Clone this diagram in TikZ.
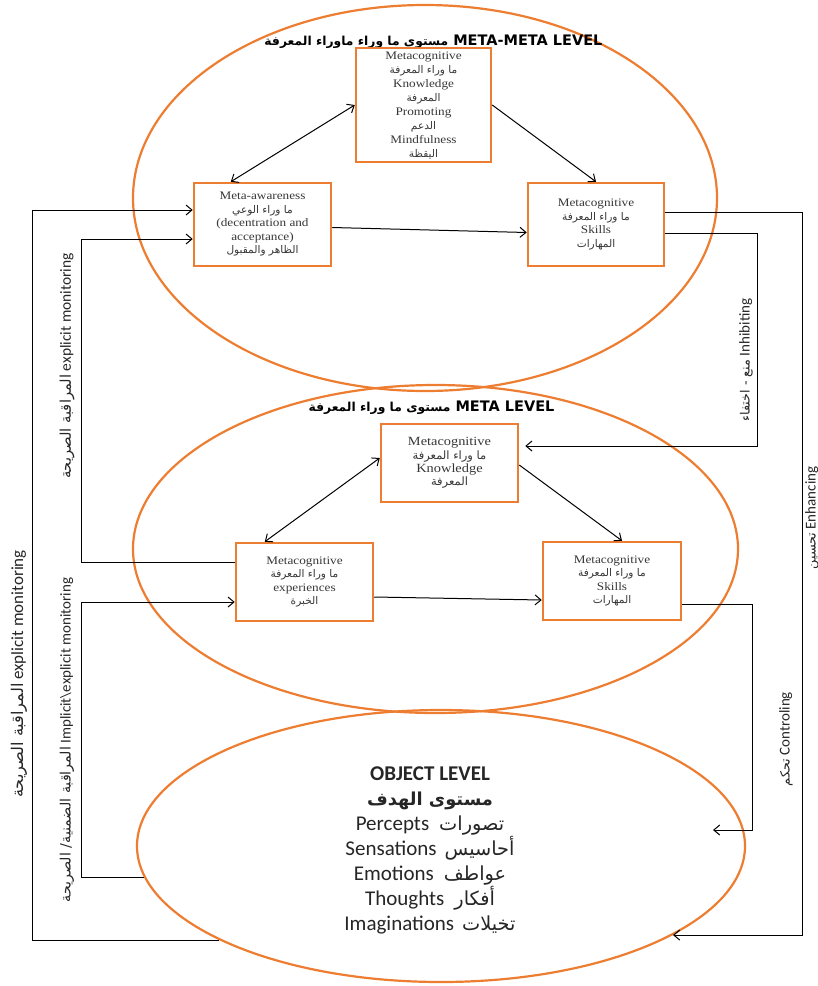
\documentclass[tikz,border=0pt]{standalone}
\usepackage{fontspec}
\usetikzlibrary{shapes.geometric,arrows.meta,calc}
\TeXXeTstate=1
\setmainfont{Liberation Serif}
\newfontfamily\boxfont[FakeStretch=1.15]{Liberation Serif}
\newfontfamily\arfont[Script=Arabic,Scale=0.85]{DejaVu Sans}
\newfontfamily\arboxfont[Script=Arabic,Scale=0.92]{DejaVu Sans}
\newfontfamily\arlabfont[Script=Arabic,Scale=0.95]{DejaVu Sans}
\newfontfamily\headfont{DejaVu Sans}
\newfontfamily\calfont{Carlito}
\newcommand\artxt[1]{{\arfont\beginR #1\endR}}
\newcommand\arbox[1]{{\arboxfont\beginR #1\endR}}
\newcommand\arlab[1]{{\arlabfont\beginR #1\endR}}
\definecolor{orng}{RGB}{237,125,49}
\definecolor{boxtxt}{RGB}{55,55,55}
\tikzset{
  level/.style={ellipse, draw=orng, line width=2.2pt, inner sep=0pt},
  box/.style={draw=orng, line width=2.5pt, fill=white, inner sep=0pt, align=center, text=boxtxt},
  boxtop/.style={box, font=\boxfont\fontsize{11.5}{14}\selectfont},
  boxmid/.style={box, font=\boxfont\fontsize{11.5}{13.4}\selectfont},
  tip/.tip={Straight Barb[length=6pt,width=10pt]},
  conn/.style={line width=1pt, -tip},
  biconn/.style={line width=1pt, tip-tip},
  lbl/.style={rotate=90, font=\calfont\fontsize{15}{18}\selectfont, inner sep=0pt, text=black!85},
  heading/.style={font=\headfont\bfseries\fontsize{14.5}{17}\selectfont, inner sep=0pt},
}
\begin{document}
\begin{tikzpicture}[x=1pt,y=-1pt]
\useasboundingbox (0,0) rectangle (818,986);

% the three levels
\node[level, minimum width=584pt, minimum height=386pt] (toplv) at (425,198) {};
\node[level, minimum width=605pt, minimum height=328pt] (midlv) at (435.5,549) {};
\node[level, minimum width=608pt, minimum height=272pt] (obj) at (441,846) {};

% level headings
\node[heading] (toptitle) at (433.5,42) {\artxt{مستوى ما وراء ماوراء المعرفة} META-META LEVEL};
\node[heading] (midtitle) at (431.5,408) {\artxt{مستوى ما وراء المعرفة} META LEVEL};

% meta-meta level boxes
\node[boxtop, minimum width=135pt, minimum height=114pt] (kn) at (423.5,105)
  {Metacognitive\\\arbox{ما وراء المعرفة}\\Knowledge\\\arbox{المعرفة}\\Promoting\\\arbox{الدعم}\\Mindfulness\\\arbox{اليقظة}};
\node[boxtop, minimum width=137pt, minimum height=83pt, font=\boxfont\fontsize{11.5}{13.5}\selectfont] (ma) at (262.5,224.5)
  {Meta-awareness\\\arbox{ما وراء الوعي}\\(decentration and\\acceptance)\\\arbox{الظاهر والمقبول}};
\node[boxtop, minimum width=136pt, minimum height=83pt, font=\boxfont\fontsize{11.5}{13.7}\selectfont] (sk) at (596,224.5)
  {Metacognitive\\\arbox{ما وراء المعرفة}\\Skills\\\arbox{المهارات}};

% meta level boxes
\node[boxmid, minimum width=137pt, minimum height=78pt, font=\boxfont\fontsize{12.5}{13.4}\selectfont] (mk) at (449.5,463)
  {Metacognitive\\\arbox{ما وراء المعرفة}\\Knowledge\\\arbox{المعرفة}};
\node[boxmid, minimum width=137pt, minimum height=78pt] (me) at (304.5,582)
  {Metacognitive\\\arbox{ما وراء المعرفة}\\experiences\\\arbox{الخبرة}};
\node[boxmid, minimum width=138pt, minimum height=78pt] (ms) at (612,581)
  {Metacognitive\\\arbox{ما وراء المعرفة}\\Skills\\\arbox{المهارات}};

% object level contents
\node[font=\calfont\fontsize{21}{25}\selectfont, align=center, inner sep=0pt, text=black!85] (objtxt) at (430,850)
  {\textbf{OBJECT LEVEL}\\{\bfseries\artxt{مستوى الهدف}}\\
   Percepts\hspace{10pt}\arbox{تصورات}\\
   Sensations\hspace{8pt}\arbox{أحاسيس}\\
   Emotions\hspace{10pt}\arbox{عواطف}\\
   Thoughts\hspace{10pt}\arbox{أفكار}\\
   Imaginations\hspace{8pt}\arbox{تخيلات}};

% arrows inside the levels
\draw[biconn] ($(ma.north west)+(38,0)$) -- (kn.west);
\draw[conn] (kn.east) -- (sk.north);
\draw[conn] ($(ma.east)+(0,3)$) -- ($(sk.west)+(0,8)$);
\draw[biconn] ($(me.north west)+(30,0)$) -- ($(mk.west)+(0,-5)$);
\draw[conn] ($(mk.east)+(0,2)$) -- ($(ms.north)+(10,0)$);
\draw[conn] ($(me.east)+(0,15)$) -- ($(ms.west)+(0,19)$);

% rails of the feedback loops
\coordinate (railL) at (32,0);
\coordinate (railM) at (81,0);
\coordinate (railInh) at (757,0);
\coordinate (railCtl) at (752,0);
\coordinate (railEnh) at (802,0);
\coordinate (ctlEnd) at (713,830);

% monitoring loops on the left
\draw[conn] (obj.203) -- (obj.203 -| railL) |- ($(ma.west)+(0,-14.5)$);
\draw[conn] ($(me.west)+(0,-20)$) coordinate (s1) -- (s1 -| railM) |- ($(ma.west)+(0,14.5)$);
\draw[conn] (obj.186) -- (obj.186 -| railM) |- ($(me.west)+(0,20)$);

% control loops on the right
\draw[conn] ($(sk.east)+(0,-12.5)$) coordinate (s2) -- (s2 -| railEnh) |- (obj.339);
\draw[conn, shorten >=6pt] ($(sk.east)+(0,8.5)$) coordinate (s3) -- (s3 -| railInh) |- ($(mk.east)+(0,-17)$);
\draw[conn] ($(ms.east)+(0,23)$) coordinate (s4) -- (s4 -| railCtl) |- (ctlEnd);

% loop labels
\node[lbl, font=\calfont\fontsize{17}{20}\selectfont] (lOuter) at (19,674) {\arlab{المراقبة الصريحة} explicit monitoring};
\node[lbl, font=\calfont\fontsize{15.5}{18}\selectfont] (lUpper) at (67,366) {\arlab{المراقبة الصريحة} explicit monitoring};
\node[lbl] (lLower) at (67,740) {\arlab{المراقبة الضمنية/ الصريحة} Implicit\textbackslash explicit monitoring};
\node[lbl] (lInh) at (746,360) {\artxt{منع - اختفاء} Inhibiting};
\node[lbl] (lCtl) at (786,739) {\artxt{تحكم} Controling};
\node[lbl] (lEnh) at (812,518) {\artxt{تحسين} Enhancing};
\end{tikzpicture}
\end{document}
